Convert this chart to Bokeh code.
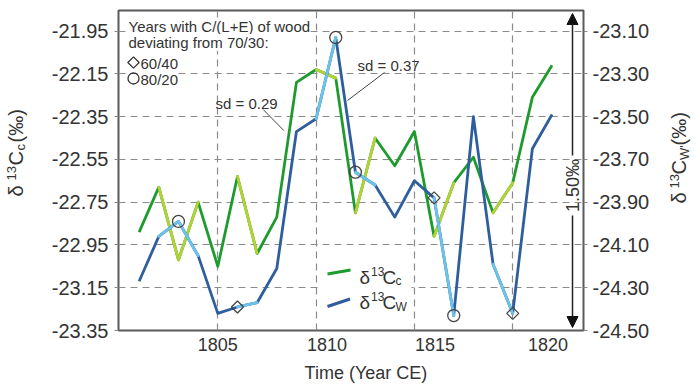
import math
from bokeh.plotting import figure
from bokeh.layouts import row, column
from bokeh.models import (Range1d, LinearAxis, FixedTicker, PrintfTickFormatter,
                          Label, Arrow, NormalHead, BoxAnnotation)
from bokeh.embed import file_html
from bokeh.resources import INLINE

# ---------------- data ----------------
years = list(range(1801, 1823))
d13c_cellulose = [-22.89, -22.68, -23.02, -22.75, -23.05, -22.63, -22.99, -22.82,
                  -22.19, -22.13, -22.17, -22.80, -22.45, -22.58, -22.42, -22.91,
                  -22.66, -22.54, -22.80, -22.66, -22.26, -22.11]
d13c_wood = [-24.27, -24.06, -23.99, -24.15, -24.42, -24.39, -24.37, -24.21,
             -23.57, -23.51, -23.13, -23.76, -23.82, -23.97, -23.80, -23.88,
             -24.43, -23.50, -24.19, -24.42, -23.65, -23.49]
light_segment_starts = [1802, 1803, 1806, 1810, 1812, 1816, 1819]
circle_years = [1803, 1811, 1812, 1817]      # 80/20
diamond_years = [1806, 1816, 1820]           # 60/40
left_ticks = [-21.95, -22.15, -22.35, -22.55, -22.75, -22.95, -23.15, -23.35]
right_ticks = [-23.10, -23.30, -23.50, -23.70, -23.90, -24.10, -24.30, -24.50]
grid_years = [1805, 1810, 1815, 1820]
x_tick_labels = ["1805", "1810", "1815", "1820"]
x_tick_label_pos = [1805, 1810.55, 1816.05, 1821.8]
sd_cellulose = "sd = 0.29"
sd_wood = "sd = 0.37"

# ---------------- layout (page pixel geometry) ----------------
TOTAL_W, TOTAL_H = 695, 385
LW, RW = 36, 35                 # side strips for the axis titles
PW = TOTAL_W - LW - RW          # main figure width
PH = 361                        # main figure height
FL, FR, FT, FB = 118, 583, 10, 330   # frame edges on the page
BL, BR, BT, BB = FL - LW, LW + PW - FR, FT, PH - FB
X0, X1 = 1799.95, 1823.6
Y0, Y1 = -23.35, -21.854
OFFSET = 1.15


def X(px):
    return X0 + (px - FL) / (FR - FL) * (X1 - X0)


def Y(py):
    return Y1 - (py - FT) / (FB - FT) * (Y1 - Y0)


FONT = "Liberation Sans"
INK = "#333333"
GREEN, LGREEN = "#1e9b2e", "#b2d236"
BLUE, LBLUE = "#2f5e9e", "#6cc3ea"

p = figure(width=PW, height=PH, x_range=Range1d(X0, X1), y_range=Range1d(Y0, Y1),
           output_backend="svg", toolbar_location=None,
           min_border_left=BL, min_border_right=BR, min_border_top=BT, min_border_bottom=BB,
           background_fill_color="white", border_fill_color="white")
p.extra_y_ranges = {"w": Range1d(Y0 - OFFSET, Y1 - OFFSET)}

p.outline_line_color = "#5a5a5a"
p.outline_line_width = 2

# axes
p.yaxis.ticker = FixedTicker(ticks=left_ticks)
p.yaxis.formatter = PrintfTickFormatter(format="%.2f")
ra = LinearAxis(y_range_name="w", ticker=FixedTicker(ticks=right_ticks),
                formatter=PrintfTickFormatter(format="%.2f"))
p.add_layout(ra, "right")
for ax in (p.yaxis[0], ra):
    ax.axis_line_color = None
    ax.major_tick_in = 0
    ax.major_tick_out = 4
    ax.major_tick_line_color = "#888888"
    ax.minor_tick_line_color = None
    ax.major_label_text_font = FONT
    ax.major_label_text_font_size = "20px"
    ax.major_label_text_color = INK
p.yaxis[0].major_label_standoff = 6
ra.major_label_standoff = 5

xa = p.xaxis[0]
xa.ticker = FixedTicker(ticks=x_tick_label_pos)
xa.major_label_overrides = dict(zip(x_tick_label_pos, x_tick_labels))
xa.axis_line_color = None
xa.major_tick_line_color = None
xa.major_tick_in = 0
xa.major_tick_out = 0
xa.minor_tick_line_color = None
xa.major_label_standoff = 7
xa.major_label_text_font = FONT
xa.major_label_text_font_size = "18px"
xa.major_label_text_color = INK

# grid
p.xgrid.ticker = FixedTicker(ticks=grid_years)
p.ygrid.ticker = FixedTicker(ticks=left_ticks)
for g in (p.xgrid[0], p.ygrid[0]):
    g.grid_line_color = "#8a8a8a"
    g.grid_line_dash = "7 5"
    g.grid_line_width = 1.2


# ---------------- series ----------------
def light_segments(vals):
    idx = [years.index(s) for s in light_segment_starts]
    return ([years[i] for i in idx], [vals[i] for i in idx],
            [years[i + 1] for i in idx], [vals[i + 1] for i in idx])


p.line(years, d13c_cellulose, line_color=GREEN, line_width=2.8, line_join="round")
gx0, gy0, gx1, gy1 = light_segments(d13c_cellulose)
p.segment(gx0, gy0, gx1, gy1, line_color=LGREEN, line_width=2.8, line_cap="round")

p.line(years, d13c_wood, line_color=BLUE, line_width=2.8, line_join="round", y_range_name="w")
bx0, by0, bx1, by1 = light_segments(d13c_wood)
p.segment(bx0, by0, bx1, by1, line_color=LBLUE, line_width=2.8, line_cap="round", y_range_name="w")

p.scatter(circle_years, [d13c_wood[years.index(y)] for y in circle_years], marker="circle",
          size=12, fill_color=None, line_color="#444444", line_width=1.3, y_range_name="w")
p.scatter(diamond_years, [d13c_wood[years.index(y)] for y in diamond_years], marker="square",
          angle=math.pi / 4, size=8.5, fill_color=None, line_color="#444444", line_width=1.3,
          y_range_name="w")


# ---------------- helpers ----------------
def lab(fig, text, x, y, size, align="left", baseline="middle", angle=0.0, bg=None, color=INK):
    kw = {}
    if bg:
        kw["background_fill_color"] = bg
    fig.add_layout(Label(x=x, y=y, text=text, text_font=FONT,
                         text_font_size=f"{size}px", text_color=color, text_align=align,
                         text_baseline=baseline, angle=angle, **kw))


def plab(text, px, py, size, **kw):
    lab(p, text, X(px), Y(py), size, **kw)


def line(px0, py0, px1, py1, color="#444444", width=1.0):
    p.add_layout(Arrow(end=None, x_start=X(px0), y_start=Y(py0), x_end=X(px1), y_end=Y(py1),
                       line_color=color, line_width=width))


def strip(x0, x1, y0, y1):
    f = figure(width=x1 - x0, height=y1 - y0, x_range=Range1d(x0, x1), y_range=Range1d(y1, y0),
               output_backend="svg", toolbar_location=None, x_axis_type=None, y_axis_type=None,
               min_border=0, outline_line_color=None,
               background_fill_color="white", border_fill_color="white")
    return f


# ---------------- annotations inside the frame ----------------
plab("Years with C/(L+E) of wood", 128, 25.5, 15, bg="white")
plab("deviating from 70/30:", 128, 42, 15, bg="white")
plab("60/40", 140, 62.5, 15, bg="white")
plab("80/20", 140, 78.5, 15, bg="white")
p.scatter([X(133)], [Y(62)], marker="square", angle=math.pi / 4, size=8, fill_color=None,
          line_color="#333333", line_width=1.3)
p.scatter([X(133)], [Y(78)], marker="circle", size=11, fill_color=None,
          line_color="#333333", line_width=1.3)

plab(sd_cellulose, 215, 102.5, 15)
line(262.7, 109, 283.3, 130)
plab(sd_wood, 357, 64.5, 15)
line(384, 72, 347, 100)

p.add_layout(BoxAnnotation(left=X(318), right=X(411), top=Y(255), bottom=Y(318),
                           fill_color="white", fill_alpha=1.0, line_color=None))
line(327, 273.5, 350, 269.5, color=GREEN, width=3)
line(327, 306, 349.5, 298.5, color=BLUE, width=3)
plab("δ", 359, 276.5, 19)
plab("13", 370.5, 270.5, 12)
plab("C", 382, 276.5, 19)
plab("c", 395, 280, 12)
plab("δ", 359, 302, 19)
plab("13", 370.5, 295.5, 12)
plab("C", 382, 302, 19)
plab("W", 395, 306.5, 12)

ax_px = 572
head = dict(size=11, fill_color="#111111", line_color="#111111")
p.add_layout(Arrow(end=NormalHead(**head), x_start=X(ax_px), y_start=Y(155), x_end=X(ax_px),
                   y_end=Y(13), line_color="#222222", line_width=1.5))
p.add_layout(Arrow(end=NormalHead(**head), x_start=X(ax_px), y_start=Y(215), x_end=X(ax_px),
                   y_end=Y(327), line_color="#222222", line_width=1.5))
plab("1.50‰", ax_px, 185, 18, align="center", angle=math.pi / 2)

# ---------------- axis titles in side strips ----------------
R = math.pi / 2
lf = strip(0, LW, 0, TOTAL_H)
lab(lf, "δ", 15, 196, 20, angle=R)
lab(lf, "13", 11, 180, 13, angle=R)
lab(lf, "C", 15, 165, 20, angle=R)
lab(lf, "c", 20, 150, 13, angle=R)
lab(lf, "(‰)", 15, 142, 20, angle=R)

rf = strip(LW + PW, TOTAL_W, 0, TOTAL_H)
lab(rf, "δ", 678, 203, 20, angle=R)
lab(rf, "13", 674, 188, 13, angle=R)
lab(rf, "C", 678, 174, 20, angle=R)
lab(rf, "W'", 684, 159.5, 13, angle=R)
lab(rf, "(‰)", 678, 145, 20, angle=R)

bf = strip(LW, LW + PW, PH, TOTAL_H)
lab(bf, "Time (Year CE)", 368, 372.5, 18, align="center")

layout = row(lf, column(p, bf, spacing=0), rf, spacing=0)

open("out.html", "w").write(file_html(layout, INLINE))
